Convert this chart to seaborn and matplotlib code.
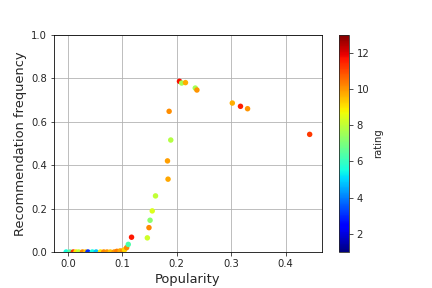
import matplotlib
matplotlib.use("Agg")
import matplotlib.pyplot as plt
import numpy as np
import pandas as pd
import seaborn as sns

# popularity vs recommendation frequency, coloured by rating
popularity = [
    -0.003, 0.004, 0.010, 0.015, 0.020, 0.027, 0.033, 0.037, 0.045, 0.052,
    0.060, 0.066, 0.072, 0.078, 0.085, 0.090, 0.096, 0.101, 0.104, 0.108,
    0.111, 0.117, 0.146, 0.149, 0.151, 0.155, 0.161, 0.184, 0.183, 0.189,
    0.186, 0.205, 0.209, 0.216, 0.234, 0.237, 0.302, 0.317, 0.330, 0.444,
]
frequency = [
    0.000, 0.000, 0.000, 0.000, 0.000, 0.000, 0.000, 0.000, 0.000, 0.000,
    0.000, 0.000, 0.000, 0.000, 0.000, 0.003, 0.005, 0.005, 0.010, 0.020,
    0.035, 0.068, 0.065, 0.112, 0.146, 0.189, 0.258, 0.335, 0.419, 0.515,
    0.647, 0.785, 0.777, 0.779, 0.754, 0.745, 0.685, 0.670, 0.659, 0.541,
]
rating = [
    5.5, 6.5, 11.3, 9.0, 8.0, 10.2, 9.3, 3.0, 5.5, 4.8,
    9.0, 10.2, 10.0, 9.4, 10.0, 10.3, 9.8, 10.1, 9.2, 10.2,
    6.3, 11.6, 8.2, 10.2, 7.2, 8.4, 8.0, 9.8, 9.9, 7.8,
    10.1, 11.7, 7.6, 9.7, 7.6, 10.0, 9.7, 11.5, 10.0, 11.2,
]

df = pd.DataFrame({"popularity": popularity, "frequency": frequency, "rating": rating})

jet = plt.get_cmap("jet")

sns.set_style("white")
fig, ax = plt.subplots(figsize=(6, 4), dpi=72)
sns.scatterplot(
    data=df, x="popularity", y="frequency", hue="rating",
    palette=jet, hue_norm=(1, 13), s=30, linewidth=0, legend=False, ax=ax,
)
sm = plt.cm.ScalarMappable(cmap=jet, norm=plt.Normalize(1, 13))
cbar = fig.colorbar(sm, ax=ax)
cbar.set_label("rating")
cbar.set_ticks([2, 4, 6, 8, 10, 12])

ax.set_ylim(0, 1)
ax.grid(True, color="#b0b0b0", linewidth=0.8)
for sp in ax.spines.values():
    sp.set_color("black")
ax.tick_params(axis="both", direction="out", length=3.5, left=True, bottom=True)
ax.set_xlabel("Popularity", fontsize=13)
ax.set_ylabel("Recommendation frequency", fontsize=13)
fig.subplots_adjust(bottom=0.125)
fig.savefig("out.png", dpi=72)
